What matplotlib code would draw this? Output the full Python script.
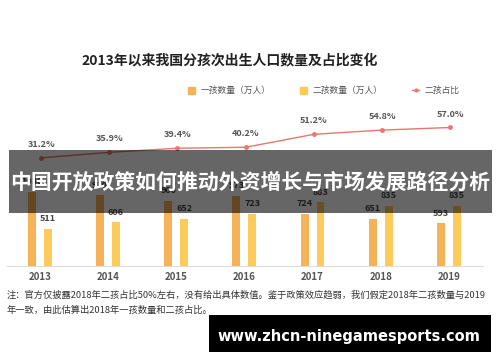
import matplotlib
matplotlib.use("Agg")
import matplotlib.pyplot as plt
from matplotlib.patches import Rectangle, Patch
from matplotlib.lines import Line2D
import numpy as np

plt.rcParams['font.family'] = ['Noto Sans CJK SC', 'DejaVu Sans']

# data
years = ["2013", "2014", "2015", "2016", "2017", "2018", "2019"]
first_child = [1030, 980, 900, 973, 724, 651, 593]
second_child = [511, 606, 652, 723, 883, 835, 835]
second_share = [31.2, 35.9, 39.4, 40.2, 51.2, 54.8, 57.0]

title = "2013年以来我国分孩次出生人口数量及占比变化"
legend_labels = ["一孩数量（万人）", "二孩数量（万人）", "二孩占比"]
banner = "中国开放政策如何推动外资增长与市场发展路径分析"
note1 = "注：官方仅披露2018年二孩占比50%左右，没有给出具体数值。鉴于政策效应趋弱，我们假定2018年二孩数量与2019"
note2 = "年一致，由此估算出2018年一孩数量和二孩占比。"
watermark = "www.zhcn-ninegamesports.com"

C1 = "#F6B257"
C2 = "#FDCB5A"
CL = "#E8776F"

fig = plt.figure(figsize=(5, 3.62), dpi=100)
ax = fig.add_axes([0.014, 0.265, 0.952, 0.403])
x = np.arange(len(years))
w = 0.117
ax.bar(x - w, first_child, w, color=C1, zorder=2)
ax.bar(x + w, second_child, w, color=C2, zorder=2)
for xi, v in zip(x, first_child):
    ax.text(xi - w, v + 80, str(v), ha="center", va="bottom", fontsize=6.5,
            color="#444444", fontweight="bold")
for xi, v in zip(x, second_child):
    ax.text(xi + w, v + 80, str(v), ha="center", va="bottom", fontsize=6.5,
            color="#444444", fontweight="bold")
ax.set_xlim(-0.48, 6.5)
ax.set_ylim(0, 2022)
ax.set_xticks(x)
ax.set_xticklabels(years, fontsize=7, fontweight="bold", color="#555555")
ax.tick_params(axis="x", length=0, pad=4)
ax.set_yticks([])
for s in ["top", "left", "right"]:
    ax.spines[s].set_visible(False)
ax.spines["bottom"].set_color("#DDDDDD")

ax2 = ax.twinx()
ax2.plot(x + 0.02, second_share, color=CL, lw=1, marker="o", ms=2.5, zorder=3)
for xi, v in zip(x, second_share):
    ax2.text(xi + 0.02, v + 7.5, f"{v:.1f}%", ha="center", va="bottom",
             fontsize=6.5, color="#555555", fontweight="bold")
ax2.set_ylim(-60.7, 63.2)
ax2.set_yticks([])
for s in ax2.spines.values():
    s.set_visible(False)

fig.text(0.46, 0.834, title, ha="center", va="center", fontsize=10,
         fontweight="bold", color="#222222")

handles = [Patch(color=C1), Patch(color=C2),
           Line2D([], [], color=CL, lw=1, marker="o", ms=2)]
fig.legend(handles, legend_labels, loc="center", bbox_to_anchor=(0.648, 0.749),
           ncol=3, frameon=False, fontsize=6.3, handlelength=0.8, handleheight=0.8,
           columnspacing=3.4, handletextpad=0.6, labelcolor="#555555")

# overlay banner
fig.add_artist(Rectangle((0.018, 1 - 213 / 362), 0.966, 63 / 362,
                         transform=fig.transFigure, color="black", alpha=0.6,
                         lw=0, zorder=5))
fig.text(0.5, 1 - 182.5 / 362, banner, ha="center", va="center", fontsize=15,
         fontweight="bold", color="white", zorder=6)

fig.text(0.014, 1 - 295 / 362, note1, ha="left", va="center", fontsize=6.7,
         color="#333333")
fig.text(0.014, 1 - 310 / 362, note2, ha="left", va="center", fontsize=6.7,
         color="#333333")

fig.add_artist(Rectangle((0.418, 1 - 352 / 362), 0.564, 37 / 362,
                         transform=fig.transFigure, color="black", lw=0, zorder=5))
fig.text(0.697, 1 - 336.5 / 362, watermark, ha="center", va="center",
         fontsize=10.5, fontweight="bold", color="white", family="DejaVu Sans",
         zorder=6)

fig.savefig("out.png", dpi=100)
